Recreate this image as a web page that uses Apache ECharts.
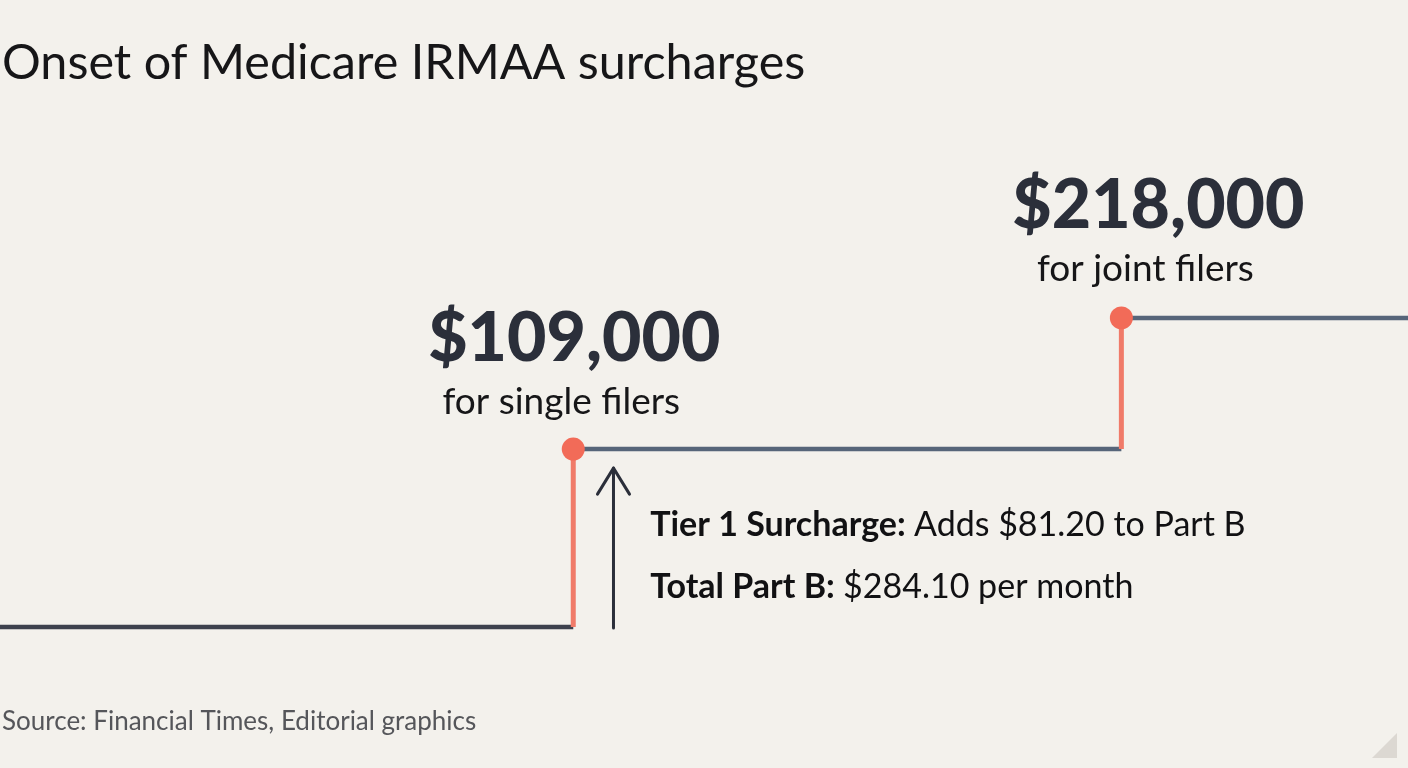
<!DOCTYPE html>
<html>
<head>
<meta charset="utf-8">
<script src="https://cdn.jsdelivr.net/npm/echarts@6/dist/echarts.min.js"></script>
<style>
html,body{margin:0;padding:0;background:#f3f1ec;}
#chart{width:1408px;height:768px;}
</style>
</head>
<body>
<div id="chart"></div>
<script>
// ---- data ----
const titleText = 'Onset of Medicare IRMAA surcharges';
const sourceText = 'Source: Financial Times, Editorial graphics';
const incomeRange = [-5, 275];                 // income, $ thousands (x extent)
const thresholds = [109, 218];                 // IRMAA onset, $ thousands
const thresholdLabels = ['$109,000', '$218,000'];
const filerLabels = ['for single filers', 'for joint filers'];
const premiumLevels = [202.9, 284.1, 343.9];   // monthly Part B level (illustrative steps)
const arrowX = 117;
const arrowY = [202.5, 275.4];
const noteBold = ['Tier 1 Surcharge:', 'Total Part B:'];
const noteRest = ['Adds $81.20 to Part B', '$284.10 per month'];
const notePoint = [124.3, 235.3];

// ---- build series data ----
const edges = [incomeRange[0]].concat(thresholds, [incomeRange[1]]);
const lowSeg = [[edges[0], premiumLevels[0]], [edges[1], premiumLevels[0]]];
const upperSegs = [];
for (let i = 1; i < premiumLevels.length; i++) {
  upperSegs.push([edges[i], premiumLevels[i]], [edges[i + 1], premiumLevels[i]]);
  if (i < premiumLevels.length - 1) upperSegs.push([null, null]);
}
const risers = [];
thresholds.forEach((t, i) => {
  risers.push([t, premiumLevels[i]], [t, premiumLevels[i + 1]]);
  if (i < thresholds.length - 1) risers.push([null, null]);
});
const dots = thresholds.map((t, i) => ({
  value: [t, premiumLevels[i + 1]],
  label: { offset: i === 0 ? [1, 0] : [37, 0], distance: i === 0 ? 15 : 17 },
  name: thresholdLabels[i] + '|' + filerLabels[i]
}));

const FONT = 'Lato, "Noto Sans", sans-serif';
const chart = echarts.init(document.getElementById('chart'));
chart.setOption({
  backgroundColor: '#f3f1ec',
  animation: false,
  title: [
    { text: titleText, left: -3, top: 34,
      textStyle: { fontFamily: FONT, fontSize: 48.5, fontWeight: 'normal', color: '#161618' } },
    { text: sourceText, left: -3, top: 704,
      textStyle: { fontFamily: FONT, fontSize: 26, fontWeight: 'normal', color: '#55565a' } }
  ],
  grid: { left: 0, right: 0, top: 195, bottom: 134.6 },
  xAxis: { type: 'value', min: incomeRange[0], max: incomeRange[1], show: false },
  yAxis: { type: 'value', min: 200, max: 400, show: false },
  graphic: [{
    type: 'polygon', shape: { points: [[1372, 758], [1397, 733], [1397, 758]] },
    style: { fill: '#dcd8d2' }
  }],
  series: [
    { type: 'line', data: lowSeg, symbol: 'none', lineStyle: { color: '#3d414d', width: 4.5 }, silent: true },
    { type: 'line', data: upperSegs, symbol: 'none', connectNulls: false,
      lineStyle: { color: '#566579', width: 4.5 }, silent: true },
    { type: 'line', data: risers, symbol: 'none', connectNulls: false,
      lineStyle: { color: '#f07b69', width: 5 }, silent: true, z: 3 },
    { type: 'custom', silent: true, z: 3,
      data: [[arrowX, arrowY[0], arrowY[1]]],
      renderItem: function (params, api) {
        const b = api.coord([api.value(0), api.value(1)]);
        const t = api.coord([api.value(0), api.value(2)]);
        const st = { stroke: '#2b2f3a', lineWidth: 3, fill: null, lineCap: 'round', lineJoin: 'round' };
        return { type: 'group', children: [
          { type: 'line', shape: { x1: b[0], y1: b[1], x2: t[0], y2: t[1] }, style: st },
          { type: 'polyline', shape: { points: [[t[0] - 16, t[1] + 26], [t[0], t[1]], [t[0] + 16, t[1] + 26]] }, style: st }
        ]};
      }
    },
    { type: 'scatter', data: dots, symbolSize: 23, z: 5, silent: true,
      itemStyle: { color: '#f26b58', opacity: 1 },
      label: {
        show: true, position: 'top', align: 'center',
        formatter: function (p) {
          const parts = p.name.split('|');
          return '{big|' + parts[0] + '}\n{small|' + parts[1] + '}';
        },
        rich: {
          big: { fontFamily: FONT, fontSize: 68, fontWeight: 900, color: '#2b2f3a', lineHeight: 86, align: 'center' },
          small: { fontFamily: FONT, fontSize: 37, fontWeight: 'normal', color: '#161618', lineHeight: 40,
                   align: 'center', padding: [0, 26, 0, 0] }
        }
      }
    },
    { type: 'scatter', data: [notePoint], symbolSize: 0, silent: true, z: 5,
      itemStyle: { color: '#141416', opacity: 1 },
      label: {
        show: true, position: 'right', distance: 0,
        formatter: function () {
          return noteBold.map((b, i) => '{b|' + b + ' }{r|' + noteRest[i] + '}').join('\n');
        },
        rich: {
          b: { fontFamily: FONT, fontSize: 34, fontWeight: 'bold', color: '#111113', lineHeight: 62 },
          r: { fontFamily: FONT, fontSize: 34, fontWeight: 'normal', color: '#111113', lineHeight: 62 }
        }
      }
    }
  ]
});
</script>
</body>
</html>
